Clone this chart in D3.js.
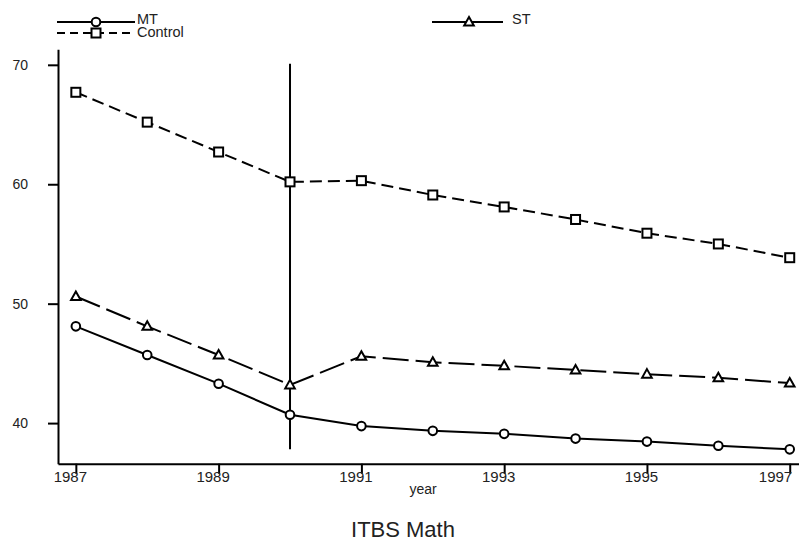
<!DOCTYPE html>
<html>
<head>
<meta charset="utf-8">
<script src="https://cdn.jsdelivr.net/npm/d3@7"></script>
<style>
  body { margin: 0; background: #fff; }
  svg text { font-family: "Liberation Sans", Arial, sans-serif; fill: #222; }
</style>
</head>
<body>
<div id="chart"></div>
<script>
const years = [1987, 1988, 1989, 1990, 1991, 1992, 1993, 1994, 1995, 1996, 1997];
const mtValues = [48.1, 45.7, 43.3, 40.7, 39.75, 39.35, 39.1, 38.7, 38.45, 38.1, 37.8];
const stValues = [50.6, 48.1, 45.7, 43.2, 45.6, 45.1, 44.8, 44.45, 44.1, 43.8, 43.35];
const controlValues = [67.7, 65.2, 62.7, 60.2, 60.3, 59.1, 58.1, 57.05, 55.9, 55.0, 53.85];
const xTicks = [1987, 1989, 1991, 1993, 1995, 1997];
const yTicks = [40, 50, 60, 70];
const cutYear = 1990;
const cutRange = [37.8, 70.1];

const width = 799, height = 543;

const svg = d3.select("#chart")
    .append("svg")
    .attr("width", width)
    .attr("height", height);

const x = d3.scaleLinear()
    .domain([1986.75, 1997.13])
    .range([58, 799]);

const y = d3.scaleLinear()
    .domain([36.6, 71.3])
    .range([463.7, 49.3]);

// axes
const yAxis = svg.append("g")
    .attr("transform", "translate(58,0)")
    .call(d3.axisLeft(y).tickValues(yTicks).tickSize(10).tickSizeOuter(0).tickPadding(20));
const xAxis = svg.append("g")
    .attr("transform", "translate(0,463.7)")
    .call(d3.axisBottom(x).tickValues(xTicks).tickFormat(d3.format("d")).tickSize(10).tickSizeOuter(0));

[yAxis, xAxis].forEach(g => {
    g.select(".domain").attr("stroke", "#000").attr("stroke-width", 2);
    g.selectAll(".tick line").attr("stroke", "#000").attr("stroke-width", 2);
    g.selectAll(".tick text").style("font-size", "15px").attr("fill", "#222");
});
yAxis.selectAll(".tick text").style("font-size", "14px");
xAxis.selectAll(".tick text")
    .attr("y", 8)
    .attr("dx", -6)
    .filter(d => d === xTicks[xTicks.length - 1])
    .attr("text-anchor", "end")
    .attr("dx", 2);

svg.append("text")
    .attr("x", 423)
    .attr("y", 494)
    .attr("text-anchor", "middle")
    .style("font-size", "14px")
    .text("year");

svg.append("text")
    .attr("x", 403)
    .attr("y", 537)
    .attr("text-anchor", "middle")
    .style("font-size", "22px")
    .text("ITBS Math");

// vertical line at intervention year
svg.append("line")
    .attr("x1", x(cutYear)).attr("x2", x(cutYear))
    .attr("y1", y(cutRange[0])).attr("y2", y(cutRange[1]))
    .attr("stroke", "#000")
    .attr("stroke-width", 2);

const series = [
    { name: "MT", values: mtValues, dash: null, marker: "circle" },
    { name: "ST", values: stValues, dash: "26,7", marker: "triangle" },
    { name: "Control", values: controlValues, dash: "12,6", marker: "square" }
];

const line = d3.line()
    .x(d => x(d[0]))
    .y(d => y(d[1]));

function drawMarker(g, type, cx, cy) {
    if (type === "circle") {
        g.append("circle").attr("cx", cx).attr("cy", cy).attr("r", 4.3);
    } else if (type === "square") {
        g.append("rect").attr("x", cx - 4.5).attr("y", cy - 4.5).attr("width", 9).attr("height", 9);
    } else {
        g.append("path").attr("d", `M${cx},${cy - 5}L${cx + 4.8},${cy + 3.5}L${cx - 4.8},${cy + 3.5}Z`);
    }
}

series.forEach(s => {
    const pts = years.map((yr, i) => [yr, s.values[i]]);
    svg.append("path")
        .datum(pts)
        .attr("fill", "none")
        .attr("stroke", "#000")
        .attr("stroke-width", 2)
        .attr("stroke-dasharray", s.dash)
        .attr("d", line);
    const g = svg.append("g")
        .attr("fill", "#fff")
        .attr("stroke", "#000")
        .attr("stroke-width", 2);
    pts.forEach(p => drawMarker(g, s.marker, x(p[0]), y(p[1])));
});

// legend
const legendItems = [
    { name: "MT", marker: "circle", dash: null, x1: 57, x2: 135, mx: 96, ly: 22, tx: 137, ty: 24 },
    { name: "Control", marker: "square", dash: "8,5", x1: 57, x2: 135, mx: 96, ly: 33, tx: 137, ty: 37 },
    { name: "ST", marker: "triangle", dash: null, x1: 432, x2: 503, mx: 469, ly: 22, tx: 512, ty: 24 }
];

legendItems.forEach(it => {
    svg.append("line")
        .attr("x1", it.x1).attr("x2", it.x2)
        .attr("y1", it.ly).attr("y2", it.ly)
        .attr("stroke", "#000")
        .attr("stroke-width", 2)
        .attr("stroke-dasharray", it.dash);
    const g = svg.append("g")
        .attr("fill", "#fff")
        .attr("stroke", "#000")
        .attr("stroke-width", 2);
    drawMarker(g, it.marker, it.mx, it.ly);
    svg.append("text")
        .attr("x", it.tx)
        .attr("y", it.ty)
        .style("font-size", "14.5px")
        .text(it.name);
});
</script>
</body>
</html>
